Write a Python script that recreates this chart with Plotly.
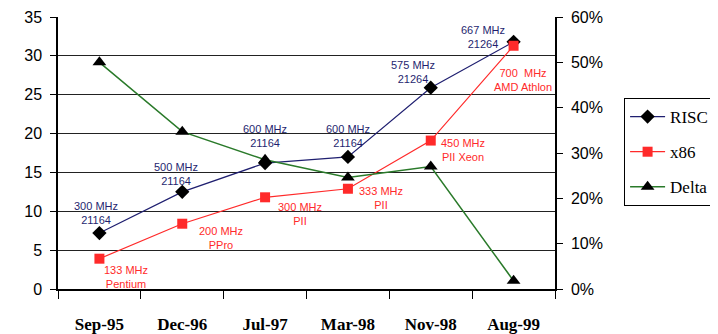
import plotly.graph_objects as go

categories = ["Sep-95", "Dec-96", "Jul-97", "Mar-98", "Nov-98", "Aug-99"]
risc = [7.2, 12.5, 16.2, 17.0, 25.9, 31.8]
x86 = [3.9, 8.4, 11.8, 12.9, 19.1, 31.3]
delta_pct = [50.0, 34.7, 28.5, 24.6, 27.0, 1.8]

risc_labels = ["300 MHz<br>21164", "500 MHz<br>21164", "600 MHz<br>21164",
               "600 MHz<br>21164", "575 MHz<br>21264", "667 MHz<br>21264"]
x86_labels = ["133 MHz<br>Pentium", "200 MHz<br>PPro", "300 MHz<br>PII",
              "333 MHz<br>PII", "450 MHz<br>PII Xeon", "700  MHz<br>AMD Athlon"]

left_ticks = [0, 5, 10, 15, 20, 25, 30, 35]
right_ticks = [0, 10, 20, 30, 40, 50, 60]
right_tick_text = ["0%", "10%", "20%", "30%", "40%", "50%", "60%"]

# label offsets in pixels (style)
risc_shift = [(-3, 20), (-6, 18), (0, 27), (0, 21), (-18, 16), (-31, 5)]
x86_shift = [(27, -18), (39, -14), (35, -17), (33, -9), (32, -9), (9, -34)]

NAVY = "#1f1f70"
RED = "#ff2a2a"
GREEN = "#2a7a2a"
SERIF = "Liberation Serif, Times New Roman, serif"
SANS = "Liberation Sans, Arial, sans-serif"

fig = go.Figure()
fig.add_trace(go.Scatter(x=categories, y=risc, name="RISC", mode="lines+markers",
                         line=dict(color=NAVY, width=1.2),
                         marker=dict(symbol="diamond", size=11, color="black"),
                         legendgroup="a"))
fig.add_trace(go.Scatter(x=categories, y=x86, name="x86", mode="lines+markers",
                         line=dict(color=RED, width=1.2),
                         marker=dict(symbol="square", size=10, color=RED),
                         legendgroup="b"))
fig.add_trace(go.Scatter(x=categories, y=delta_pct, name="Delta", mode="lines+markers",
                         yaxis="y2",
                         line=dict(color=GREEN, width=1.5),
                         marker=dict(symbol="triangle-up", size=12, color="black"),
                         legendgroup="c"))

for c, v, t, (dx, dy) in zip(categories, risc, risc_labels, risc_shift):
    fig.add_annotation(x=c, y=v, text=t, showarrow=False, xshift=dx, yshift=dy,
                       font=dict(family=SANS, size=11, color=NAVY))
for c, v, t, (dx, dy) in zip(categories, x86, x86_labels, x86_shift):
    fig.add_annotation(x=c, y=v, text=t, showarrow=False, xshift=dx, yshift=dy,
                       font=dict(family=SANS, size=11, color=RED))

fig.update_layout(
    width=710, height=326,
    margin=dict(l=50, r=163, t=9, b=45, autoexpand=False),
    plot_bgcolor="white", paper_bgcolor="white",
    showlegend=True,
    legend=dict(x=1.139, y=0.702, xanchor="left", yanchor="top",
                bordercolor="black", borderwidth=1, bgcolor="white",
                font=dict(family=SERIF, size=17, color="black"),
                tracegroupgap=10, itemwidth=35),
    xaxis=dict(type="category", categoryorder="array", categoryarray=categories,
               range=[-0.5, len(categories) - 0.5],
               tickson="boundaries", ticks="outside", ticklen=8, tickcolor="black",
               showline=True, linecolor="black", linewidth=1.5, showgrid=False,
               tickfont=dict(family=SERIF, size=17, color="black", weight="bold"),
               ticklabelstandoff=19, automargin=False),
    yaxis=dict(range=[0, 35], tickvals=left_ticks, ticks="outside", ticklen=6,
               tickcolor="black", showline=True, linecolor="black", linewidth=1.5,
               showgrid=True, gridcolor="#222222", gridwidth=1, zeroline=False,
               tickfont=dict(family=SANS, size=16, color="black"),
               ticklabelstandoff=5, automargin=False),
    yaxis2=dict(range=[0, 60], tickvals=right_ticks, ticktext=right_tick_text,
                overlaying="y", side="right", ticks="outside", ticklen=6,
                tickcolor="black", showline=True, linecolor="black", linewidth=1.5,
                showgrid=False, zeroline=False,
                tickfont=dict(family=SANS, size=16, color="black"),
                ticklabelstandoff=5, automargin=False),
)

fig.write_html("out.html")
